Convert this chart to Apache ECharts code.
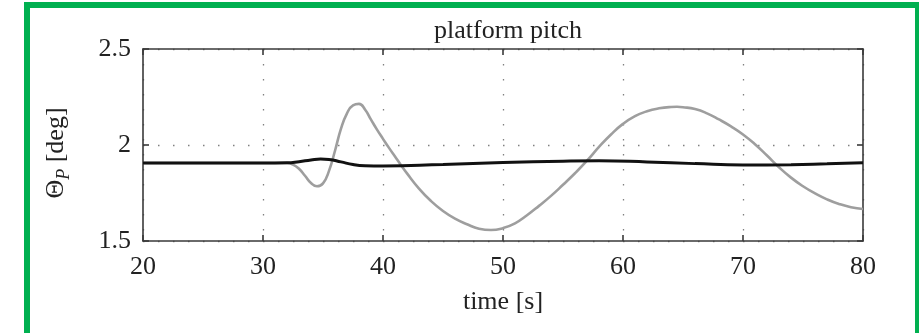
<!DOCTYPE html>
<html>
<head>
<meta charset="utf-8">
<script src="https://cdn.jsdelivr.net/npm/echarts@6/dist/echarts.min.js"></script>
<style>
html,body{margin:0;padding:0;background:#fff;}
#c{width:920px;height:333px;}
</style>
</head>
<body>
<div id="c"></div>
<script>
// ---- data ----
const grayT = [20,25,30,32,32.5,33,33.5,34,34.5,35,35.5,36,36.5,37,37.5,38,38.5,39,39.5,40,40.5,41,41.5,42,43,44,45,46,47,48,49,50,51,52,53,54,55,56,57,58,59,60,61,62,63,64,64.5,65,66,67,68,69,70,71,72,73,74,75,76,77,78,79,80];
const grayV = [1.906,1.906,1.906,1.906,1.898,1.876,1.84,1.802,1.785,1.80,1.865,1.97,2.085,2.165,2.207,2.214,2.185,2.132,2.08,2.032,1.985,1.94,1.895,1.852,1.773,1.708,1.656,1.616,1.587,1.564,1.557,1.567,1.592,1.634,1.683,1.735,1.793,1.853,1.918,1.99,2.055,2.11,2.15,2.176,2.191,2.198,2.199,2.197,2.187,2.165,2.133,2.097,2.055,2.004,1.945,1.884,1.830,1.785,1.748,1.717,1.693,1.676,1.667];
const blackT = [20,30,32,33,34,34.8,35.5,36.5,37.5,38.5,40,45,50,55,58,62,66,70,74,77,80];
const blackV = [1.906,1.906,1.907,1.913,1.922,1.927,1.925,1.912,1.898,1.892,1.891,1.899,1.909,1.916,1.918,1.912,1.903,1.896,1.897,1.902,1.908];
const xTicks = [20,30,40,50,60,70,80];
const yTicks = [1.5,2,2.5];
const titleText = 'platform pitch';
const xName = 'time [s]';

const FONT = 'Liberation Serif';
const frameColor = '#3a3a3a';
const dotted = {show:true, lineStyle:{color:'#808080', width:1.3, type:[1.5,13.5]}};

const chart = echarts.init(document.getElementById('c'), null, {renderer:'canvas'});
const zip = (t, v) => t.map((x, i) => [x, v[i]]);

const xBase = {
  type:'value', min:xTicks[0], max:xTicks[xTicks.length-1], interval:10,
  axisLine:{show:true, onZero:false, lineStyle:{color:frameColor, width:1.6}},
  axisTick:{show:true, inside:true, length:6, lineStyle:{color:frameColor, width:1.6}},
};
const yBase = {
  type:'value', min:yTicks[0], max:yTicks[yTicks.length-1], interval:0.5,
  axisLine:{show:true, onZero:false, lineStyle:{color:frameColor, width:1.6}},
  axisTick:{show:true, inside:true, length:6, lineStyle:{color:frameColor, width:1.6}},
};

chart.setOption({
  animation:false,
  backgroundColor:'#fff',
  title:{
    text:titleText, left:503, top:13, textAlign:'center',
    textStyle:{fontFamily:FONT, fontSize:26, fontWeight:'normal', color:'#222'}
  },
  grid:{left:143, right:57, top:49, bottom:92},
  xAxis:[
    Object.assign({}, xBase, {
      position:'bottom',
      name:xName, nameLocation:'middle', nameGap:48,
      nameTextStyle:{fontFamily:FONT, fontSize:26, color:'#222'},
      axisLabel:{show:true, margin:13, fontFamily:FONT, fontSize:26, color:'#222'},
      splitLine:dotted
    }),
    Object.assign({}, xBase, {position:'top', axisLabel:{show:false}, splitLine:{show:false}})
  ],
  yAxis:[
    Object.assign({}, yBase, {
      position:'left',
      name:'{t|Θ}{s|P} {t|[deg]}', nameLocation:'middle', nameGap:70,
      nameTextStyle:{
        fontFamily:FONT, fontSize:26, color:'#222', padding:[0,16,0,0],
        rich:{
          t:{fontFamily:FONT, fontSize:26, color:'#222', lineHeight:34, verticalAlign:'middle'},
          s:{fontFamily:FONT, fontSize:18, fontStyle:'italic', color:'#222', lineHeight:34, verticalAlign:'bottom'}
        }
      },
      axisLabel:{show:true, margin:12, fontFamily:FONT, fontSize:26, color:'#222',
        formatter:function(v){ return String(v); }},
      splitLine:dotted
    }),
    Object.assign({}, yBase, {position:'right', axisLabel:{show:false}, splitLine:{show:false}})
  ],
  series:[
    {type:'line', xAxisIndex:0, yAxisIndex:0, data:zip(grayT, grayV), showSymbol:false,
      smooth:0.5, lineStyle:{color:'#9e9e9e', width:2.6}, z:3},
    {type:'line', xAxisIndex:0, yAxisIndex:0, data:zip(blackT, blackV), showSymbol:false,
      smooth:0.5, lineStyle:{color:'#111', width:3}, z:4}
  ],
  graphic:[
    {type:'rect', shape:{x:24, y:2, width:895, height:6}, style:{fill:'#00b050'}, silent:true},
    {type:'rect', shape:{x:24, y:2, width:6, height:331}, style:{fill:'#00b050'}, silent:true},
    {type:'rect', shape:{x:915, y:2, width:4, height:331}, style:{fill:'#00b050'}, silent:true}
  ]
});
</script>
</body>
</html>
